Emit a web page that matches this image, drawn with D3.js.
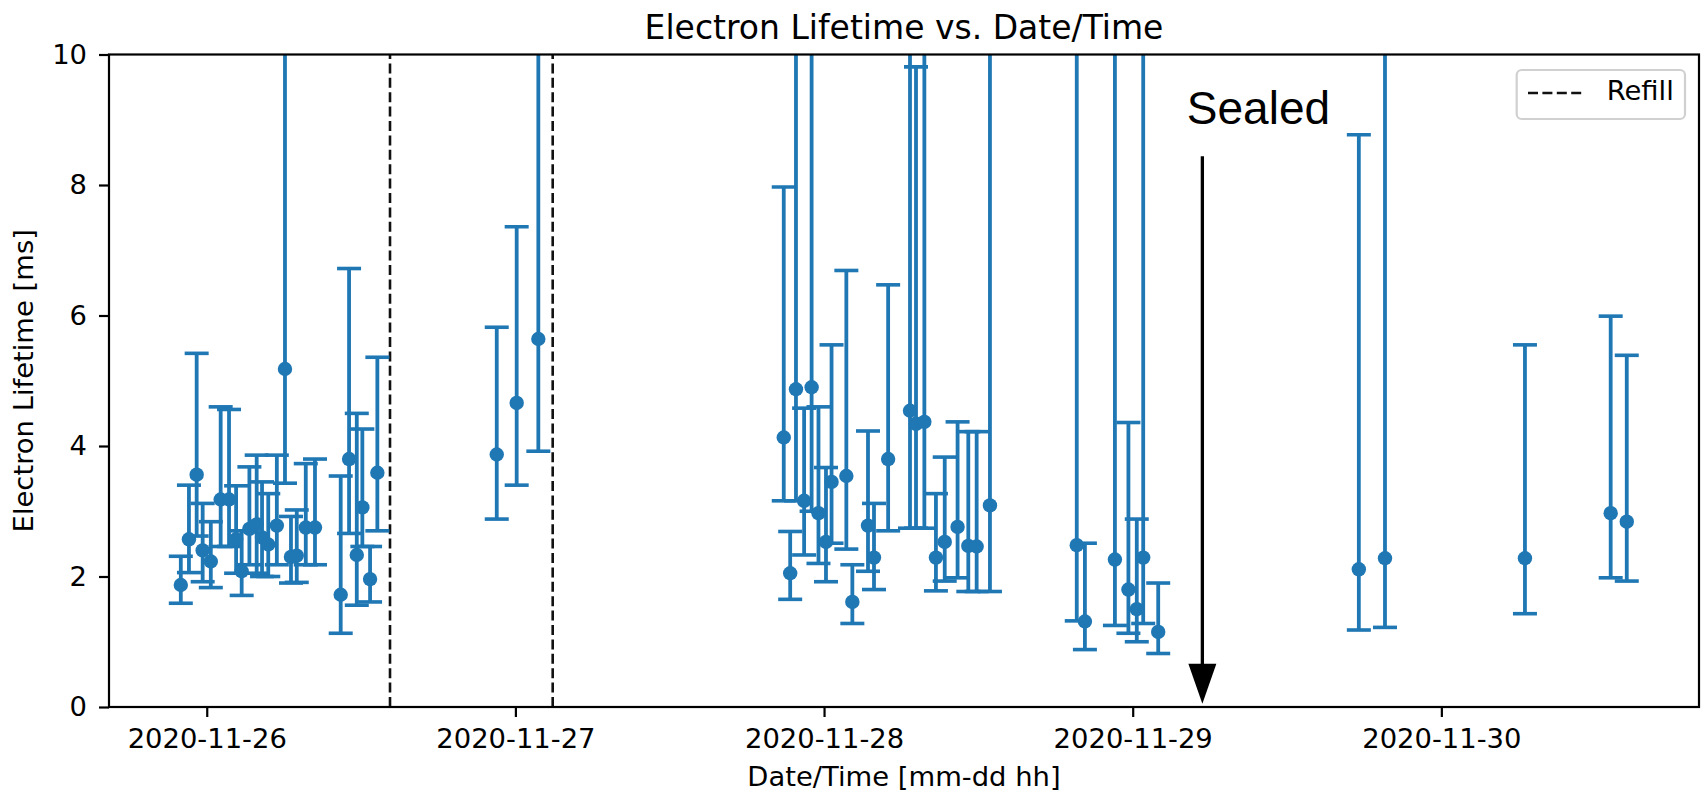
<!DOCTYPE html>
<html>
<head>
<meta charset="utf-8">
<script src="https://cdn.jsdelivr.net/npm/d3@7"></script>
<style>
  body { margin: 0; background: #fff; }
  svg { display: block; }
  text { font-family: "DejaVu Sans", sans-serif; fill: #000; }
</style>
</head>
<body>
<svg id="chart" width="1704" height="793"></svg>
<script>
// Electron lifetime measurements: time stamp, best fit, lower and upper bound of the error bar (ms)
const timestamps = [
  "2020-11-25 21:59", "2020-11-25 22:37", "2020-11-25 23:13", "2020-11-25 23:41", "2020-11-26 00:19",
  "2020-11-26 01:05", "2020-11-26 01:44", "2020-11-26 02:17", "2020-11-26 02:43", "2020-11-26 03:19",
  "2020-11-26 03:53", "2020-11-26 04:18", "2020-11-26 04:47", "2020-11-26 05:27", "2020-11-26 06:05",
  "2020-11-26 06:33", "2020-11-26 07:00", "2020-11-26 07:42", "2020-11-26 08:25", "2020-11-26 10:25",
  "2020-11-26 11:04", "2020-11-26 11:40", "2020-11-26 12:06", "2020-11-26 12:42", "2020-11-26 13:16",
  "2020-11-26 22:33", "2020-11-27 00:06", "2020-11-27 01:47",
  "2020-11-27 20:52", "2020-11-27 21:22", "2020-11-27 21:49", "2020-11-27 22:27", "2020-11-27 23:02",
  "2020-11-27 23:34", "2020-11-28 00:09", "2020-11-28 00:35", "2020-11-28 01:44", "2020-11-28 02:12",
  "2020-11-28 03:25", "2020-11-28 03:53", "2020-11-28 04:59", "2020-11-28 06:41", "2020-11-28 07:09",
  "2020-11-28 07:48", "2020-11-28 08:42", "2020-11-28 09:23", "2020-11-28 10:23", "2020-11-28 11:13",
  "2020-11-28 11:52", "2020-11-28 12:54",
  "2020-11-28 19:39", "2020-11-28 20:17", "2020-11-28 22:37", "2020-11-28 23:40", "2020-11-29 00:19",
  "2020-11-29 00:49", "2020-11-29 01:59",
  "2020-11-29 17:35", "2020-11-29 19:37", "2020-11-30 06:30", "2020-11-30 13:10", "2020-11-30 14:25"
];
const lifetimes = [
  1.87, 2.57, 3.56, 2.40, 2.23, 3.18, 3.18, 2.57, 2.08, 2.73,
  2.80, 2.60, 2.49, 2.78, 5.18, 2.30, 2.32, 2.75, 2.75, 1.72,
  3.80, 2.33, 3.06, 1.96, 3.59,
  3.87, 4.66, 5.64,
  4.13, 2.05, 4.87, 3.16, 4.90, 2.97, 2.53, 3.45, 3.54, 1.61,
  2.78, 2.29, 3.80, 4.54, 4.34, 4.37, 2.29, 2.53, 2.76, 2.47,
  2.46, 3.09,
  2.48, 1.31, 2.26, 1.80, 1.50, 2.29, 1.15,
  2.11, 2.28, 2.28, 2.97, 2.84
];
const lowerBounds = [
  1.59, 2.06, 2.62, 1.92, 1.83, 2.46, 2.46, 2.05, 1.71, 2.18,
  2.05, 2.00, 2.00, 2.18, 3.43, 1.90, 1.91, 2.18, 2.18, 1.13,
  2.66, 1.56, 2.46, 1.61, 2.70,
  2.88, 3.40, 3.92,
  3.16, 1.65, 3.16, 2.33, 3.00, 2.20, 1.92, 2.51, 2.42, 1.28,
  2.08, 1.80, 2.70, 2.74, 2.74, 2.74, 1.78, 1.93, 1.98, 1.77,
  1.77, 1.77,
  1.32, 0.88, 1.25, 1.13, 1.00, 1.28, 0.82,
  1.18, 1.22, 1.43, 1.98, 1.93
];
const upperBounds = [
  2.31, 3.40, 5.42, 3.12, 2.84, 4.60, 4.56, 3.39, 2.70, 3.68,
  3.86, 3.45, 3.27, 3.86, 14.0, 2.92, 3.02, 3.73, 3.80, 3.54,
  6.72, 4.50, 4.26, 2.46, 5.36,
  5.82, 7.36, 14.0,
  7.97, 2.69, 14.0, 4.58, 14.0, 4.60, 3.67, 5.55, 6.69, 2.18,
  4.23, 3.12, 6.47, 14.0, 9.81, 14.0, 3.27, 3.83, 4.37, 4.22,
  4.22, 14.0,
  14.0, 2.51, 14.0, 4.36, 2.88, 14.0, 1.90,
  8.77, 14.0, 5.55, 5.99, 5.39
];

// Detector refills (vertical dashed lines) and the sealing annotation
const refillTimes = ["2020-11-26 14:15", "2020-11-27 02:54"];
const sealedTime = "2020-11-29 05:25";
const sealedLabel = "Sealed";
const sealedArrowFrom = 8.44;
const sealedArrowTo = 0.05;
const sealedTextAt = 8.94;

// Axis extents and tick labels
const xExtent = ["2020-11-25 16:24", "2020-11-30 20:02"];
const dayTicks = ["2020-11-26", "2020-11-27", "2020-11-28", "2020-11-29", "2020-11-30"];
const yTicks = [0, 2, 4, 6, 8, 10];
const yExtent = [0, 10];

const chartTitle = "Electron Lifetime vs. Date/Time";
const xLabel = "Date/Time [mm-dd hh]";
const yLabel = "Electron Lifetime [ms]";
const legendLabel = "Refill";

const parseTime = d3.utcParse("%Y-%m-%d %H:%M");
const parseDay = d3.utcParse("%Y-%m-%d");

const plotLeft = 109, plotRight = 1699, plotTop = 54.5, plotBottom = 707;
const blue = "#1f77b4";
const tickFont = 27.4;

const svg = d3.select("#chart");

const x = d3.scaleUtc().domain(xExtent.map(parseTime)).range([plotLeft, plotRight]);
const y = d3.scaleLinear().domain(yExtent).range([plotBottom, plotTop]);

const points = timestamps.map((t, i) => ({
  t: parseTime(t), v: lifetimes[i], lo: lowerBounds[i], hi: upperBounds[i]
}));

svg.append("defs").append("clipPath").attr("id", "plotArea")
  .append("rect").attr("x", plotLeft).attr("y", plotTop)
  .attr("width", plotRight - plotLeft).attr("height", plotBottom - plotTop);

const plot = svg.append("g").attr("clip-path", "url(#plotArea)");

// Refill markers
plot.selectAll(".refill").data(refillTimes).join("line")
  .attr("class", "refill")
  .attr("x1", d => x(parseTime(d))).attr("x2", d => x(parseTime(d)))
  .attr("y1", y(yExtent[0])).attr("y2", y(yExtent[1]))
  .attr("stroke", "#111").attr("stroke-width", 2.6)
  .attr("stroke-dasharray", "10,4.4");

// Error bars
const capHalf = 12;
plot.selectAll(".bar").data(points).join("line")
  .attr("class", "bar")
  .attr("x1", d => x(d.t)).attr("x2", d => x(d.t))
  .attr("y1", d => y(d.lo)).attr("y2", d => y(d.hi))
  .attr("stroke", blue).attr("stroke-width", 3.8);

const caps = points.flatMap(d => [{ t: d.t, v: d.lo }, { t: d.t, v: d.hi }]);
plot.selectAll(".cap").data(caps).join("line")
  .attr("class", "cap")
  .attr("x1", d => x(d.t) - capHalf).attr("x2", d => x(d.t) + capHalf)
  .attr("y1", d => y(d.v)).attr("y2", d => y(d.v))
  .attr("stroke", blue).attr("stroke-width", 3.6);

plot.selectAll(".dot").data(points).join("circle")
  .attr("class", "dot")
  .attr("cx", d => x(d.t)).attr("cy", d => y(d.v))
  .attr("r", 7.2).attr("fill", blue);

// Axes
const xAxis = d3.axisBottom(x)
  .tickValues(dayTicks.map(parseDay))
  .tickFormat(d3.utcFormat("%Y-%m-%d"))
  .tickSize(10).tickPadding(12).tickSizeOuter(0);
const gx = svg.append("g").attr("transform", `translate(0,${plotBottom})`).call(xAxis);

const yAxis = d3.axisLeft(y).tickValues(yTicks).tickFormat(d3.format("d"))
  .tickSize(10).tickPadding(12).tickSizeOuter(0);
const gy = svg.append("g").attr("transform", `translate(${plotLeft},0)`).call(yAxis);

[gx, gy].forEach(g => {
  g.select(".domain").remove();
  g.selectAll(".tick line").attr("stroke", "#000").attr("stroke-width", 2.2);
  g.selectAll(".tick text").attr("font-size", tickFont)
    .attr("font-family", "DejaVu Sans, sans-serif").attr("fill", "#000");
});

// Frame
svg.append("rect").attr("x", plotLeft).attr("y", plotTop)
  .attr("width", plotRight - plotLeft).attr("height", plotBottom - plotTop)
  .attr("fill", "none").attr("stroke", "#000").attr("stroke-width", 2.2);

// Titles
svg.append("text").attr("x", (plotLeft + plotRight) / 2).attr("y", 39)
  .attr("text-anchor", "middle").attr("font-size", 33).text(chartTitle);
svg.append("text").attr("x", (plotLeft + plotRight) / 2).attr("y", 786)
  .attr("text-anchor", "middle").attr("font-size", tickFont).text(xLabel);
svg.append("text")
  .attr("transform", `translate(33,${(plotTop + plotBottom) / 2}) rotate(-90)`)
  .attr("text-anchor", "middle").attr("font-size", tickFont).text(yLabel);

// Sealing annotation
const sx = x(parseTime(sealedTime));
const tipY = y(sealedArrowTo);
const headLen = 40, headHalf = 14;
svg.append("line")
  .attr("x1", sx).attr("x2", sx)
  .attr("y1", y(sealedArrowFrom)).attr("y2", tipY - headLen + 2)
  .attr("stroke", "#000").attr("stroke-width", 3.3);
svg.append("path")
  .attr("d", `M${sx},${tipY} L${sx - headHalf},${tipY - headLen} L${sx + headHalf},${tipY - headLen} Z`)
  .attr("fill", "#000");
svg.append("text").attr("x", sx - 15.5).attr("y", y(sealedTextAt))
  .style("font-family", "'Liberation Sans', Arial, sans-serif")
  .attr("font-size", 46).text(sealedLabel);

// Legend
const lg = svg.append("g");
lg.append("rect").attr("x", 1516.7).attr("y", 70).attr("width", 168.3).attr("height", 49)
  .attr("rx", 5).attr("fill", "#fff").attr("fill-opacity", 0.8)
  .attr("stroke", "#d0d0d0").attr("stroke-width", 2.2);
lg.append("line").attr("x1", 1528).attr("x2", 1584).attr("y1", 93).attr("y2", 93)
  .attr("stroke", "#111").attr("stroke-width", 2.6).attr("stroke-dasharray", "10,4.4");
lg.append("text").attr("x", 1606.7).attr("y", 99.5).attr("font-size", tickFont).text(legendLabel);
</script>
</body>
</html>
